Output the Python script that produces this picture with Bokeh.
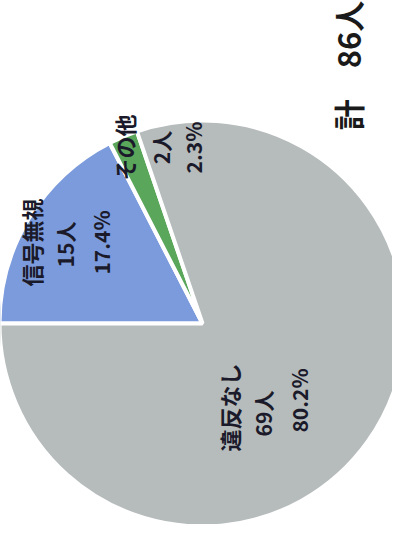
import math
from bokeh.plotting import figure
from bokeh.models import ColumnDataSource, Range1d
from bokeh.core.properties import value
from bokeh.embed import file_html
from bokeh.resources import INLINE

# ---- data (clockwise from 9 o'clock) ----
categories = ["信号無視", "その他", "違反なし"]
counts = [15, 2, 69]
percent_labels = ["17.4%", "2.3%", "80.2%"]
colors = ["#7c9bdc", "#5aa65a", "#b6bbbc"]
total_label = "計　86人"

total = sum(counts)

W, H = 392, 524
p = figure(width=W, height=H, output_backend="svg", toolbar_location=None,
           x_range=Range1d(8, 8 + W), y_range=Range1d(8, 8 + H),
           x_axis_type=None, y_axis_type=None, min_border=0)
p.grid.visible = False
p.outline_line_color = None
p.background_fill_color = "white"

# geometry (image pixel coords -> data: y = 540 - img_y)
cx, cy, R = 210, 540 - 331, 203
start_deg = 180.0

starts, ends = [], []
cum = 0
for c in counts:
    a0 = start_deg - (cum + c) / total * 360.0
    a1 = start_deg - cum / total * 360.0
    starts.append(math.radians(a0))
    ends.append(math.radians(a1))
    cum += c

src = ColumnDataSource(dict(start=starts, end=ends, color=colors, cat=categories))
p.wedge(x=cx, y=cy, radius=R, start_angle="start", end_angle="end",
        direction="anticlock", fill_color="color", line_color="white",
        line_width=4, source=src)

# labels: three rotated lines per slice (name, count, percent)
label_pos = [
    [(38, 250), (72, 252), (108, 250)],
    [(131, 155), (168, 155), (200, 155)],
    [(236, 415), (270, 421), (306, 408)],
]
font = value("Noto Sans CJK JP")
for i, cat in enumerate(categories):
    lines = [cat, f"{counts[i]}人", percent_labels[i]]
    sizes = ["22px", "21px", "21px"]
    for j, t in enumerate(lines):
        x, yi = label_pos[i][j]
        p.text(x=[x], y=[540 - yi], text=[t], angle=math.pi / 2,
               text_align="center", text_baseline="middle",
               text_font=font, text_font_style="bold",
               text_font_size=sizes[j], text_color="#1a1a2a")

p.text(x=[355], y=[540 - 73], text=[total_label], angle=math.pi / 2,
       text_align="center", text_baseline="middle", text_font=font,
       text_font_style="bold", text_font_size="31px", text_color="#1a1a1a")

open("out.html", "w").write(file_html(p, INLINE))
